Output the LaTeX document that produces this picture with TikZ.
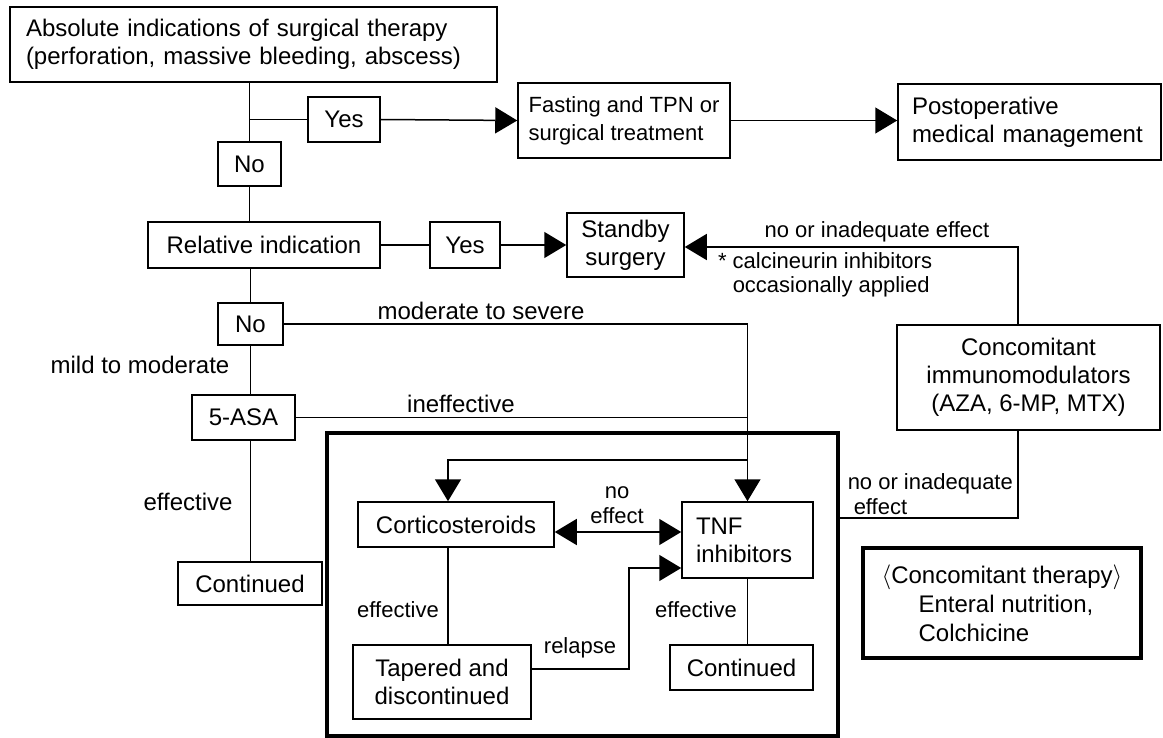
\documentclass[tikz,border=0pt]{standalone}
\usepackage{fontspec}
\setmainfont{Liberation Sans}
\usetikzlibrary{arrows.meta}

\begin{document}
\begin{tikzpicture}[x=1pt, y=-1pt, line width=1.5pt,
    box/.style={draw, inner sep=0pt, font=\fontsize{24}{28}\selectfont},
    lbl/.style={inner sep=0pt, font=\fontsize{24}{28}\selectfont},
    lblsm/.style={inner sep=0pt, font=\fontsize{22}{24.5}\selectfont},
    frame/.style={draw, line width=4pt, inner sep=0pt},
    arr/.style={-{Triangle[length=22pt,width=26pt]}},
    arrboth/.style={{Triangle[length=22pt,width=26pt]}-{Triangle[length=22pt,width=26pt]}}]
    \useasboundingbox (0,0) rectangle (1163,738);
    % surgical indications
    \node[box, minimum width=487, minimum height=75, text width=455, align=left] (abs) at (253.5,44.5) {Absolute indications of surgical therapy\\(perforation, massive bleeding, abscess)};
    \node[box, minimum width=72, minimum height=45] (yes1) at (344,119.5) {Yes};
    \node[box, minimum width=212, minimum height=75, align=left, font=\fontsize{22}{28}\selectfont] (fast) at (624,120.5) {Fasting and TPN or\\surgical treatment};
    \node[box, minimum width=263, minimum height=76, text width=235, align=left] (post) at (1029.5,122) {Postoperative\\medical management};
    \node[box, minimum width=63, minimum height=44] (no1) at (249.5,164) {No};
    \node[box, minimum width=232, minimum height=46] (rel) at (264,245) {Relative indication};
    \node[box, minimum width=70, minimum height=46] (yes2) at (465,245) {Yes};
    \node[box, minimum width=117, minimum height=64, align=center] (stand) at (625.5,245) {Standby\\surgery};
    \node[box, minimum width=65, minimum height=42] (no2) at (250.5,324) {No};
    \node[box, minimum width=103, minimum height=45] (asa) at (243.5,417.5) {5-ASA};
    \node[box, minimum width=144, minimum height=43] (cont1) at (250,583.5) {Continued};
    \node[box, minimum width=263, minimum height=105, align=center] (conc) at (1028.5,377.5) {Concomitant\\immunomodulators\\(AZA, 6-MP, MTX)};
    % main treatment frame
    \node[frame, minimum width=511, minimum height=303] (big) at (582.5,584.5) {};
    \node[box, minimum width=196, minimum height=45] (cort) at (456,524.5) {Corticosteroids};
    \node[box, minimum width=131, minimum height=76, text width=103, align=left] (tnf) at (747.5,540) {TNF\\inhibitors};
    \node[box, minimum width=178, minimum height=74, align=center] (tap) at (442,682) {Tapered and\\discontinued};
    \node[box, minimum width=143, minimum height=45] (cont2) at (741.5,667.5) {Continued};
    \node[frame, minimum width=278, minimum height=110, align=left, font=\fontsize{24}{29}\selectfont] (ther) at (1002,603) {$\langle$Concomitant therapy$\rangle$\\\hspace*{37pt}Enteral nutrition,\\\hspace*{37pt}Colchicine};
    % connectors
    \draw (abs.south -| no1.north) -- (no1.north);
    \draw (yes1.west -| no1.north) -- (yes1.west);
    \draw[arr] (yes1.east) -- (fast.west);
    \draw[arr] (fast.east) -- (fast.east -| post.west);
    \draw (no1.south) -- (no1.south |- rel.north);
    \draw (rel.east) -- (yes2.west);
    \draw[arr] (yes2.east) -- (stand.west);
    \draw (no2.north |- rel.south) -- (no2.north);
    \draw (no2.south) -- (no2.south |- asa.north);
    \draw (no2.south |- asa.south) -- (no2.south |- cont1.north);
    \draw[arr] (no2.east) -| (tnf.north);
    \draw (asa.east) -- (asa.east -| tnf.north);
    \coordinate (split) at (tnf.north |- 0,460);
    \draw[arr] (split) -| ([xshift=-8pt]cort.north);
    \draw[arrboth] ([yshift=-7.5pt]cort.east) -- ([yshift=-7.5pt]cort.east -| tnf.west);
    \draw ([xshift=-8pt]cort.south) -- ([xshift=-8pt]cort.south |- tap.north);
    \draw[arr] ([yshift=13pt]tap.east) -- ++(97,0) |- ([yshift=-28pt]tnf.west);
    \draw (tnf.south) -- (tnf.south |- cont2.north);
    \draw[arr] ([xshift=-10.5pt]conc.north) |- ([yshift=-2pt]stand.east);
    \draw ([xshift=-10.5pt]conc.south) |- (big.east |- 0,518);
    % labels
    \node[lbl] (lsev) at (481,311) {moderate to severe};
    \node[lbl] (lmild) at (140,365) {mild to moderate};
    \node[lbl] (lineff) at (461,404) {ineffective};
    \node[lbl] (leff1) at (188,502) {effective};
    \node[lblsm, align=center] (lnoeff) at (617,505) {no\\effect};
    \node[lblsm] (leff2) at (398,610) {effective};
    \node[lblsm] (lrel) at (580,648) {relapse};
    \node[lblsm] (leff3) at (696,610) {effective};
    \node[lblsm] (linad1) at (877,232) {no or inadequate effect};
    \node[lblsm, align=left, anchor=west] (lcalc) at (732,275) {\llap{* }calcineurin inhibitors\\occasionally applied};
    \node[lblsm, align=left, anchor=west] (linad2) at (847,494) {no or inadequate\\\hspace*{6pt}effect};
\end{tikzpicture}
\end{document}
